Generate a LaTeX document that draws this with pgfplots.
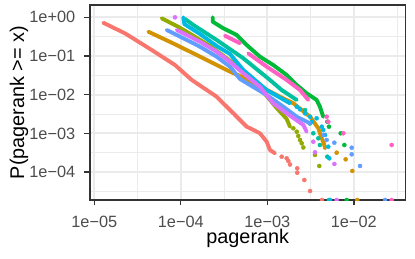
\documentclass[border=0pt]{standalone}
\usepackage{fontspec}
\setmainfont{Liberation Sans}
\usepackage{pgfplots}
\pgfplotsset{compat=1.18}
\definecolor{cRed}{HTML}{F8766D}
\definecolor{cGold}{HTML}{D39200}
\definecolor{cOlive}{HTML}{93AA00}
\definecolor{cGreen}{HTML}{00BA38}
\definecolor{cTeal}{HTML}{00C19F}
\definecolor{cCyan}{HTML}{00B9E3}
\definecolor{cBlue}{HTML}{619CFF}
\definecolor{cPurple}{HTML}{DB72FB}
\definecolor{cPink}{HTML}{FF61C3}
\definecolor{gridc}{HTML}{EBEBEB}
\definecolor{axc}{HTML}{333333}
\definecolor{tickc}{HTML}{4D4D4D}
\pgfplotsset{
  dense/.style={no marks, line width=3.9bp, line cap=round, line join=round, color=#1},
  dots/.style={only marks, mark=*, mark size=2.05bp, color=#1, mark options={draw=none, fill=#1}},
}
\begin{document}
\begin{tikzpicture}
\path[use as bounding box] (0,0) rectangle (415bp,259bp);
\begin{axis}[
  at={(90bp,59bp)}, anchor=south west,
  scale only axis, width=315.5bp, height=195bp,
  xmode=log, ymode=log,
  xmin=8.92e-6, xmax=0.0396, ymin=1.9e-5, ymax=2.08,
  xtick={1e-5,1e-4,1e-3,1e-2},
  xticklabels={1e−05,1e−04,1e−03,1e−02},
  ytick={1e-4,1e-3,1e-2,1e-1,1},
  yticklabels={1e−04,1e−03,1e−02,1e−01,1e+00},
  minor xtick={3.162e-5,3.162e-4,3.162e-3,3.162e-2},
  minor ytick={3.162e-5,3.162e-4,3.162e-3,3.162e-2,0.3162},
  grid=both,
  major grid style={draw=gridc, line width=2bp},
  minor grid style={draw=gridc, line width=1bp},
  minor tick length=0pt,
  major tick length=5.5bp,
  tick align=outside, tick pos=left,
  tick style={draw=axc, line width=1.4bp},
  axis line style={draw=axc, line width=1.4bp},
  ticklabel style={font=\fontsize{16.4}{18}\selectfont, text=tickc},
  xticklabel style={anchor=base, inner sep=0pt, yshift=-21.7bp},
  yticklabel style={anchor=east, inner sep=0pt, xshift=-9bp},
  xlabel={pagerank},
  ylabel={P(pagerank >= x)},
  label style={font=\fontsize{19.9}{22}\selectfont, text=black, inner sep=0pt},
  xlabel style={at={(axis description cs:0.5,-0.223)}, anchor=base},
  ylabel style={at={(axis description cs:-0.209,0.5)}, anchor=base, rotate=0},
  clip marker paths=true,
]
% red
\addplot[dense=cRed] coordinates {(1.27e-5,0.724) (2.26e-5,0.386) (4.61e-5,0.143) (8.57e-5,0.0585) (1.34e-4,0.024) (2.60e-4,8.87e-3) (4.05e-4,3.30e-3) (5.78e-4,1.49e-3) (6.31e-4,1.355e-3) (8.22e-4,1.007e-3) (9.84e-4,6.10e-4) (1.074e-3,3.72e-4) (1.227e-3,3.06e-4)};
\addplot[dots=cRed] coordinates {(1.466e-3,2.50e-4) (1.675e-3,2.27e-4) (1.75e-3,1.94e-4) (1.83e-3,1.57e-4) (2.22e-3,1.25e-4) (2.22e-3,9.64e-5) (2.68e-3,6.25e-5) (3.12e-3,3.25e-5) (4.29e-3,1.9e-5)};
% gold
\addplot[dense=cGold] coordinates {(4.21e-5,0.425) (7.85e-5,0.221) (1.40e-4,0.117) (2.60e-4,0.0585) (3.71e-4,0.0393) (5.06e-4,0.0292) (1.40e-3,8.87e-3) (2.00e-3,6.0e-3) (3.12e-3,2.70e-3) (3.89e-3,1.355e-3) (4.26e-3,7.47e-4) (4.53e-3,5.32e-4) (4.65e-3,4.12e-4)};
\addplot[dots=cGold] coordinates {(6.34e-3,3.17e-4) (8.05e-3,2.14e-4) (9.61e-3,1.07e-4) (1.097e-2,1.9e-5)};
% olive
\addplot[dense=cOlive] coordinates {(6.01e-5,0.942) (8.97e-5,0.596) (1.17e-4,0.425) (2.18e-4,0.181) (4.83e-4,0.049) (8.22e-4,0.0149) (1.285e-3,4.53e-3) (1.675e-3,2.36e-3) (1.83e-3,1.49e-3)};
\addplot[dots=cOlive] coordinates {(2.00e-3,1.355e-3) (2.19e-3,1.107e-3) (2.28e-3,8.57e-4) (2.39e-3,6.75e-4) (2.50e-3,5.55e-4) (2.61e-3,4.33e-4) (3.56e-3,2.77e-4) (3.99e-3,1.44e-4)};
% green
\addplot[dense=cGreen] coordinates {(2.34e-4,1.0) (2.34e-4,0.769) (3.10e-4,0.52) (4.43e-4,0.349) (5.78e-4,0.192) (8.22e-4,0.096) (1.17e-3,0.0585) (1.675e-3,0.0323) (2.19e-3,0.0178) (2.85e-3,0.01087) (3.72e-3,7.3e-3) (4.06e-3,4.90e-3) (4.43e-3,2.70e-3)};
\addplot[dots=cGreen] coordinates {(4.94e-3,2.0e-3) (5.16e-3,1.49e-3) (7.06e-3,1.007e-3) (7.77e-3,5.01e-4) (8.28e-3,1.9e-5)};
% teal
\addplot[dense=cTeal] coordinates {(1.12e-4,0.904) (1.40e-4,0.632) (2.60e-4,0.259) (5.28e-4,0.0873) (1.074e-3,0.024) (1.466e-3,0.0132) (2.19e-3,7.3e-3)};
\addplot[dots=cTeal] coordinates {(2.73e-3,4.0e-3) (3.1e-3,1.8e-3) (3.40e-3,1.007e-3) (3.89e-3,7.47e-4) (4.06e-3,5.01e-4) (4.94e-3,2.50e-4) (5.16e-3,1.9e-5)};
% cyan
\addplot[dense=cCyan] coordinates {(1.07e-4,1.0) (1.10e-4,0.671) (1.667e-4,0.37) (2.60e-4,0.181) (3.71e-4,0.1127) (5.28e-4,0.0435) (9.84e-4,0.0132) (1.83e-3,6.0e-3)};
\addplot[dots=cCyan] coordinates {(2.19e-3,4.90e-3) (2.39e-3,4.20e-3) (2.73e-3,3.30e-3) (3.12e-3,2.70e-3) (3.72e-3,2.46e-3) (3.26e-3,2.0e-3) (4.26e-3,1.49e-3) (4.43e-3,1.225e-3) (4.65e-3,9.1e-4) (5.07e-3,4.53e-4) (5.21e-3,2.27e-4) (5.31e-3,1.9e-5)};
% blue
\addplot[dense=cBlue] coordinates {(6.87e-5,0.47) (1.07e-4,0.287) (1.667e-4,0.174) (2.60e-4,0.096) (3.71e-4,0.053) (4.83e-4,0.0255) (9.84e-4,9.82e-3) (1.53e-3,4.90e-3) (2.19e-3,2.70e-3) (3.12e-3,1.82e-3)};
\addplot[dots=cBlue] coordinates {(4.43e-3,9.1e-4) (4.86e-3,6.75e-4) (5.96e-3,5.75e-4) (9.46e-3,4.27e-4) (9.46e-3,2.88e-4) (1.18e-2,1.44e-4) (2.30e-2,1.9e-5)};
% purple
\addplot[dense=cPurple] coordinates {(8.97e-5,0.47) (1.07e-4,0.386) (1.667e-4,0.234) (2.60e-4,0.129) (3.71e-4,0.0713) (5.28e-4,0.0357) (8.22e-4,0.0161) (1.17e-3,6.0e-3) (1.675e-3,3.30e-3) (2.61e-3,1.65e-3) (2.85e-3,1.107e-3)};
\addplot[dots=cPurple] coordinates {(8.57e-5,1.0) (3.40e-3,6.10e-4) (3.56e-3,3.25e-4) (5.96e-3,1.62e-4) (6.34e-3,1.9e-5)};
% pink
\addplot[dense=cPink] coordinates {(3.24e-4,0.335) (4.83e-4,0.213)};
\addplot[dense=cPink] coordinates {(6.03e-4,0.117) (9.84e-4,0.053) (1.675e-3,0.024) (2.39e-3,0.0132) (2.98e-3,7.3e-3)};
\addplot[dots=cPink] coordinates {(4.86e-3,2.70e-3) (5.07e-3,2.0e-3) (7.57e-3,1.007e-3) (2.74e-2,5.01e-4) (2.74e-2,1.9e-5)};
\end{axis}
\end{tikzpicture}
\end{document}
